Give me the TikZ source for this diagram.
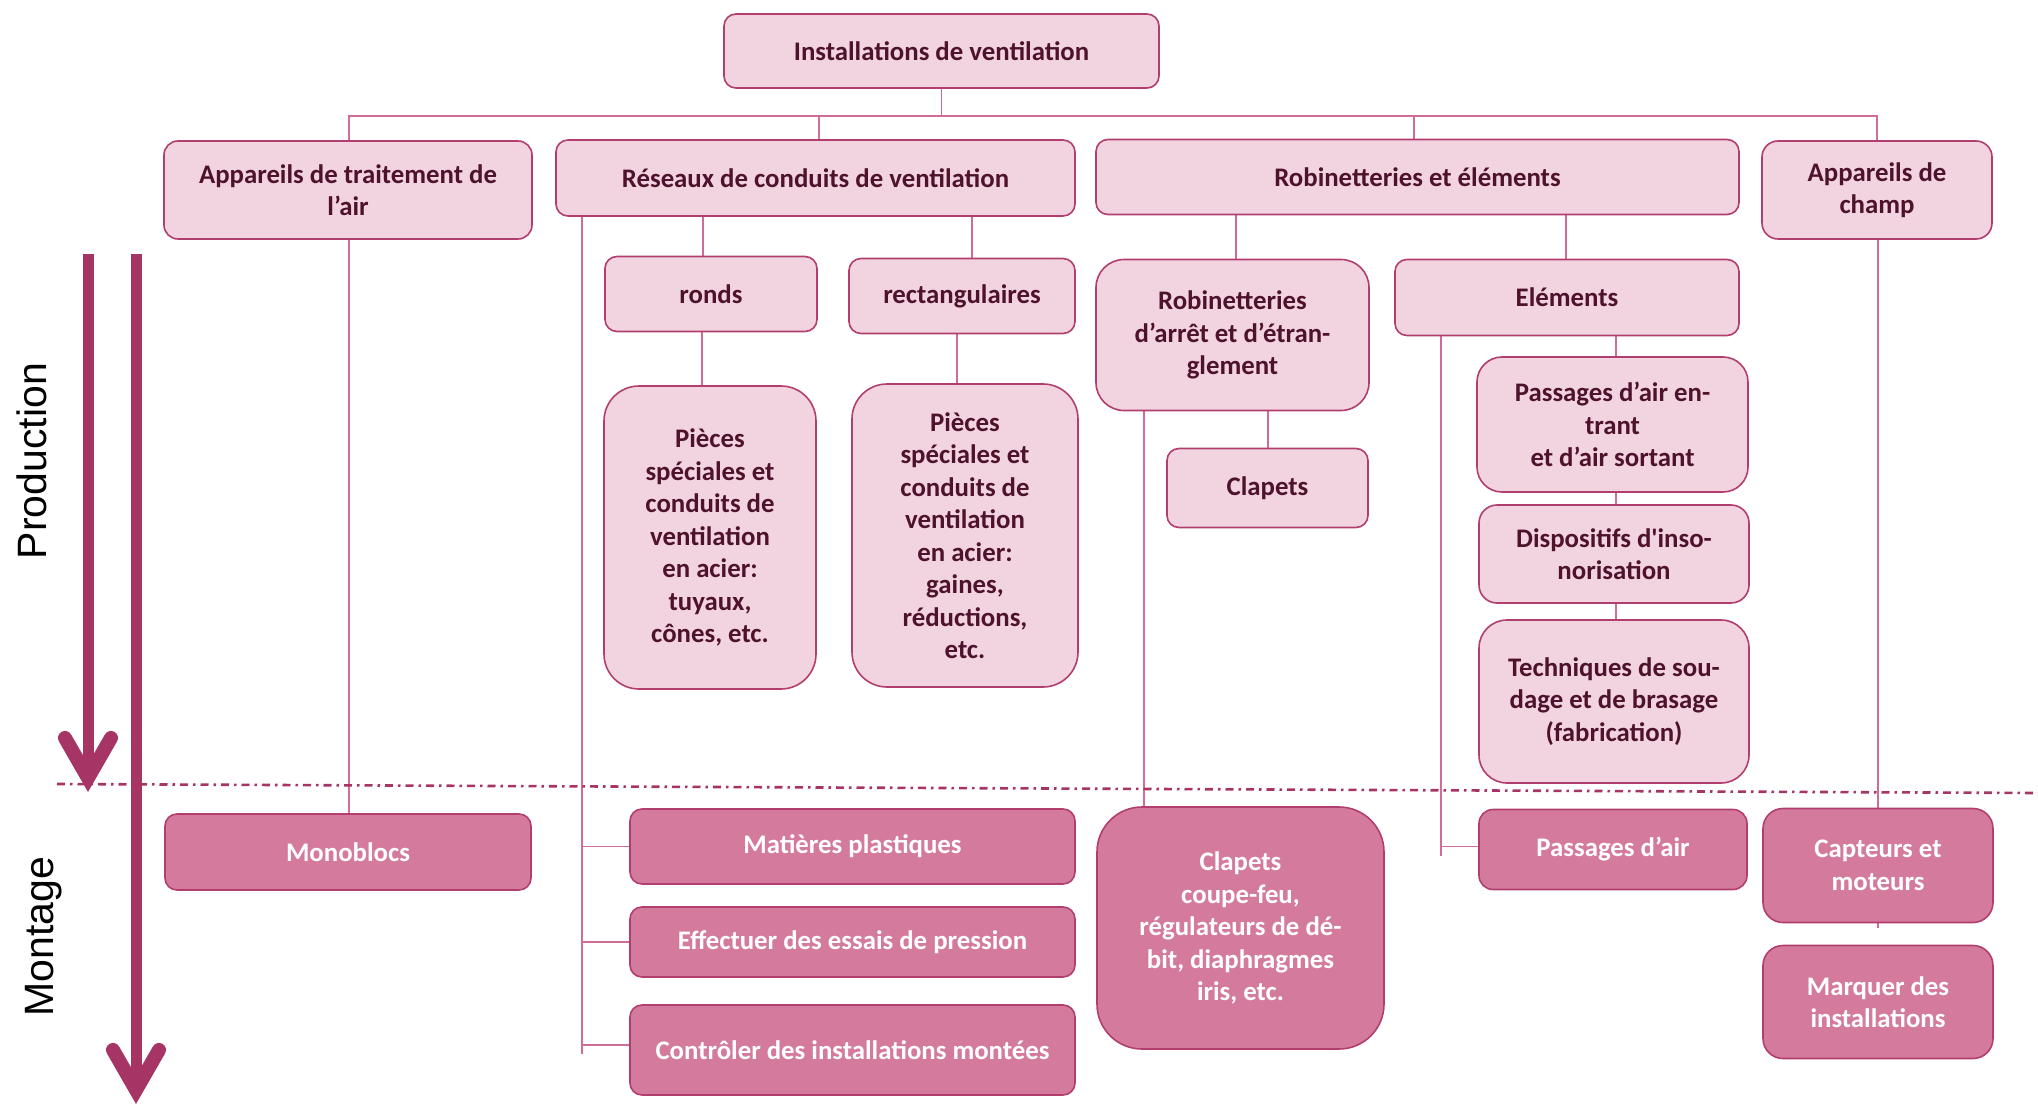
\documentclass[tikz,border=0pt]{standalone}
\usepackage{fontspec}
\setmainfont{Carlito}
\newfontfamily\plainq{Carlito}[Ligatures=TeXOff]
\newfontfamily\arialfont{Liberation Sans}
\usetikzlibrary{arrows.meta}
\pgfdeclarelayer{background}
\pgfsetlayers{background,main}
\definecolor{boxfill}{RGB}{242,212,224}
\definecolor{boxdark}{RGB}{212,123,157}
\definecolor{boxline}{RGB}{178,62,112}
\definecolor{txtdark}{RGB}{78,18,44}
\definecolor{connc}{RGB}{208,108,152}
\definecolor{arrowc}{RGB}{166,52,100}
\tikzset{
  lbox/.style={draw=boxline, line width=1.6pt, fill=boxfill, rounded corners=#1,
    text=txtdark, font=\fontsize{26.8}{32.5}\selectfont\bfseries, align=center, inner sep=0pt},
  lbox/.default=12pt,
  dbox/.style={lbox=#1, fill=boxdark, text=white},
  dbox/.default=12pt,
  conn/.style={draw=connc, line width=1.8pt},
  bigarrow/.style={draw=arrowc, line width=11pt,
    -{Straight Barb[length=40pt, width=46pt, line width=14pt, line cap=round, line join=miter]}},
  sidelabel/.style={font=\arialfont\fontsize{41}{41}\selectfont, rotate=90, inner sep=0pt},
  sepline/.style={draw=arrowc, line width=2.6pt, dash pattern=on 8pt off 5pt on 2.5pt off 5pt},
}
\newcommand{\vconn}[3]{\draw[conn] (#1.south -| #3,0) -- (#2.north -| #3,0);}
\begin{document}
\begin{tikzpicture}[x=1pt,y=-1pt]
\useasboundingbox (0,0) rectangle (2038,1105);

% coordinates for connector ends
\coordinate (bus) at (941.5,116);
\coordinate (resTrunkEnd) at (582,1054);
\coordinate (elemTrunkEnd) at (1441,856);
\coordinate (champEnd) at (1878,928);
\coordinate (a1s) at (88,254);
\coordinate (a1e) at (88,792);
\coordinate (a2s) at (136,254);
\coordinate (a2e) at (136,1104);
\coordinate (dl) at (57,784);
\coordinate (dr) at (2038,793);

% nodes
\node[lbox] (top) at (941.5,51) [minimum width=435pt, minimum height=74pt] {Installations de ventilation};
\node[lbox=14pt] (app) at (348,190) [minimum width=368pt, minimum height=98pt] {Appareils de traitement de\\l’air};
\node[lbox] (res) at (815.5,178) [minimum width=519pt, minimum height=76pt] {Réseaux de conduits de ventilation};
\node[lbox] (rob) at (1417.5,177) [minimum width=643pt, minimum height=75pt] {Robinetteries et éléments};
\node[lbox=16pt] (champ) at (1877,190) [minimum width=230pt, minimum height=98pt] {Appareils de\\champ};

\node[lbox] (ronds) at (711,294) [minimum width=212pt, minimum height=75pt] {ronds};
\node[lbox] (rect) at (962,296) [minimum width=226pt, minimum height=75pt] {rectangulaires};
\node[lbox=35pt] (p1) at (710,537.5) [minimum width=212pt, minimum height=303pt] {Pièces\\spéciales et\\conduits de\\ventilation\\en acier:\\tuyaux,\\cônes, etc.};
\node[lbox=35pt] (p2) at (965,535.5) [minimum width=226pt, minimum height=303pt] {Pièces\\spéciales et\\conduits de\\ventilation\\en acier:\\gaines,\\réductions,\\etc.};

\node[lbox=28pt] (robarr) at (1232.5,335) [minimum width=273pt, minimum height=151pt] {Robinetteries\\d’arrêt et d’étran-\\glement};
\node[lbox] (elem) at (1567,297.5) [minimum width=344pt, minimum height=76pt] {Eléments};
\node[lbox] (clap) at (1267.5,488) [minimum width=201pt, minimum height=79pt] {Clapets};
\node[lbox=25pt] (passent) at (1612.5,424.5) [minimum width=271pt, minimum height=135pt] {Passages d’air en-\\trant\\et d’air sortant};
\node[lbox=18pt] (dispo) at (1614,554) [minimum width=270pt, minimum height=98pt] {Dispositifs d{\plainq'}inso-\\norisation};
\node[lbox=28pt] (tech) at (1614,701.5) [minimum width=270pt, minimum height=163pt] {Techniques de sou-\\dage et de brasage\\(fabrication)};

\node[dbox] (mono) at (348,852) [minimum width=366pt, minimum height=76pt] {Monoblocs};
\node[dbox] (mat) at (852.5,846.5) [minimum width=445pt, minimum height=75pt] {Matières plastiques};
\node[dbox] (eff) at (852.5,942) [minimum width=445pt, minimum height=70pt] {Effectuer des essais de pression};
\node[dbox] (ctrl) at (852.5,1050) [minimum width=445pt, minimum height=90pt] {Contrôler des installations montées};
\node[dbox=45pt] (coupe) at (1240.5,928) [minimum width=287pt, minimum height=242pt] {Clapets\\coupe-feu,\\régulateurs de dé-\\bit, diaphragmes\\iris, etc.};
\node[dbox=14pt] (passair) at (1613,849.5) [minimum width=268pt, minimum height=80pt] {Passages d’air};
\node[dbox=20pt] (capt) at (1878,865.5) [minimum width=230pt, minimum height=114pt] {Capteurs et\\moteurs};
\node[dbox=20pt] (marq) at (1878,1002) [minimum width=230pt, minimum height=113pt] {Marquer des\\installations};

\node[sidelabel] (prod) at (32,461) {Production};
\node[sidelabel] (mont) at (44,936.5) {Montage};

% connectors behind the boxes
\begin{pgfonlayer}{background}
\fill[white] (0,0) rectangle (2038,1105);
\draw[conn] (top.south) -- (bus);
\draw[conn] (app.north -| 349,0) |- (champ.north |- bus) -- (champ.north);
\draw[conn] (res.north -| 819,0) -- (bus -| 819,0);
\draw[conn] (rob.north -| 1414,0) -- (bus -| 1414,0);
\vconn{res}{ronds}{703}
\vconn{res}{rect}{972}
\vconn{ronds}{p1}{702}
\vconn{rect}{p2}{957}
\vconn{rob}{robarr}{1236}
\vconn{rob}{elem}{1566}
\vconn{robarr}{clap}{1268}
\vconn{robarr}{coupe}{1144}
\vconn{elem}{passent}{1616}
\vconn{passent}{dispo}{1616}
\vconn{dispo}{tech}{1616}
\vconn{app}{mono}{349}
\draw[conn] (res.south -| resTrunkEnd) -- (resTrunkEnd);
\draw[conn] (mat.west -| resTrunkEnd) -- (mat.west);
\draw[conn] (eff.west -| resTrunkEnd) -- (eff.west);
\draw[conn] ([yshift=5pt]ctrl.west -| resTrunkEnd) -- ([yshift=5pt]ctrl.west);
\draw[conn] (elem.south -| elemTrunkEnd) -- (elemTrunkEnd);
\draw[conn] ([yshift=3pt]passair.west -| elemTrunkEnd) -- ([yshift=3pt]passair.west);
\draw[conn] (champ.south -| champEnd) -- (champEnd);
\end{pgfonlayer}

% separator and phase arrows
\draw[sepline] (dl) -- (dr);
\draw[bigarrow] (a1s) -- (a1e);
\draw[bigarrow] (a2s) -- (a2e);
\end{tikzpicture}
\end{document}
